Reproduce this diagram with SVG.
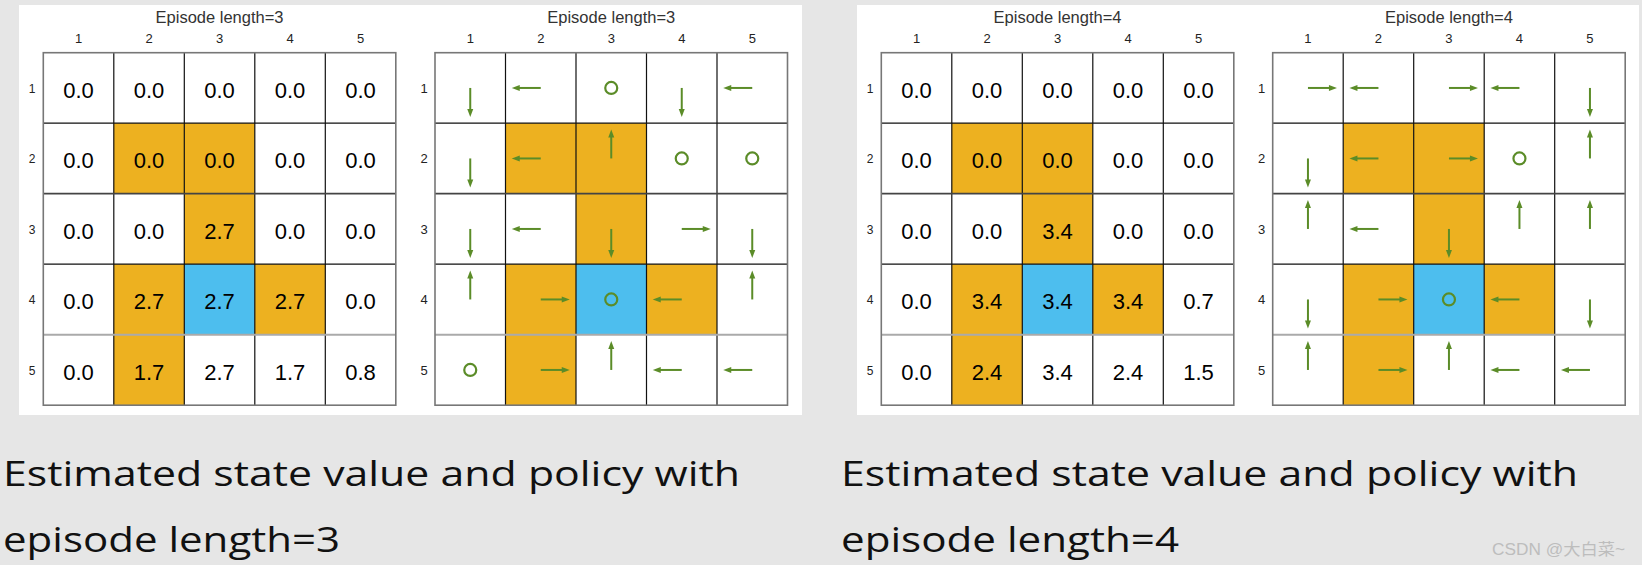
<svg xmlns="http://www.w3.org/2000/svg" xmlns:xlink="http://www.w3.org/1999/xlink" width="1642" height="565" viewBox="0 0 1642 565">
<style>
.bg{fill:#e6e6e6}
.panel{fill:#ffffff}
.o{fill:#edb120}
.b{fill:#4dbeee}
.inner{fill:none;stroke:#111;stroke-width:1.2}
.hl{fill:none;stroke:#aaaaaa;stroke-width:2}
.hd{fill:none;stroke:#444;stroke-width:1.8}
.outer{fill:none;stroke:#777;stroke-width:1.6}
.title{font-family:"Liberation Sans",Arial,sans-serif;font-size:16.5px;fill:#333;text-anchor:middle}
.lab{font-family:"Liberation Sans",Arial,sans-serif;font-size:13px;fill:#222;text-anchor:middle}
.rlab{font-family:"Liberation Sans",Arial,sans-serif;font-size:12px;fill:#222;text-anchor:middle}
.val{font-family:"Liberation Sans",Arial,sans-serif;font-size:22px;fill:#000;text-anchor:middle}
.cap{font-family:"Open Sans","Liberation Sans",sans-serif;font-size:35px;fill:#111}
.wm{font-family:"Liberation Sans","Noto Sans CJK SC",sans-serif;font-size:16px;fill:#bdbdbd}
.ln{stroke:#5b8c28;stroke-width:2;fill:none}
.hdp{fill:#5b8c28}
.circ{fill:none;stroke:#5b8c28;stroke-width:2.2}
</style>
<defs>
<g id="aR"><line class="ln" x1="0" y1="0" x2="22" y2="0"/><polygon class="hdp" points="29,0 21,-3 21,3"/></g>
<g id="aL"><line class="ln" x1="0" y1="0" x2="-22" y2="0"/><polygon class="hdp" points="-29,0 -21,-3 -21,3"/></g>
<g id="aU"><line class="ln" x1="0" y1="0" x2="0" y2="-22"/><polygon class="hdp" points="0,-29 -3,-21 3,-21"/></g>
<g id="aD"><line class="ln" x1="0" y1="0" x2="0" y2="22"/><polygon class="hdp" points="0,29 -3,21 3,21"/></g>
<circle id="aS" class="circ" cx="0" cy="0" r="6"/>
<g id="fills">
<rect class="o" x="70.5" y="70.5" width="70.5" height="70.5"/>
<rect class="o" x="141" y="70.5" width="70.5" height="70.5"/>
<rect class="o" x="141" y="141" width="70.5" height="70.5"/>
<rect class="o" x="70.5" y="211.5" width="70.5" height="70.5"/>
<rect class="b" x="141" y="211.5" width="70.5" height="70.5"/>
<rect class="o" x="211.5" y="211.5" width="70.5" height="70.5"/>
<rect class="o" x="70.5" y="282" width="70.5" height="70.5"/>
</g>
<g id="lines">
<path class="inner" d="M70.5 0V352.5M141 0V352.5M211.5 0V352.5M282 0V352.5M0 70.5H352.5M0 211.5H352.5"/>
<path class="hd" d="M0 141H352.5"/>
<path class="hl" d="M0 282H352.5"/>
<rect class="outer" x="0" y="0" width="352.5" height="352.5"/>
</g>
<g id="axes">
<text class="lab" x="35.25" y="-10">1</text>
<text class="lab" x="105.75" y="-10">2</text>
<text class="lab" x="176.25" y="-10">3</text>
<text class="lab" x="246.75" y="-10">4</text>
<text class="lab" x="317.25" y="-10">5</text>
</g>
</defs>

<rect class="bg" x="0" y="0" width="1642" height="565"/>
<rect class="panel" x="19" y="5" width="783" height="410"/>
<rect class="panel" x="857" y="5" width="782" height="410"/>

<!-- Grid A: values, length 3 -->
<g id="gridA-values" transform="translate(43.3,52.7)">
<use xlink:href="#fills"/>
<text class="title" x="176.25" y="-30">Episode length=3</text>
<use xlink:href="#axes"/>
<text class="rlab" x="-11.3" y="40">1</text>
<text class="rlab" x="-11.3" y="110.5">2</text>
<text class="rlab" x="-11.3" y="181">3</text>
<text class="rlab" x="-11.3" y="251.5">4</text>
<text class="rlab" x="-11.3" y="322">5</text>
<g>
<text class="val" x="35.25" y="45.25">0.0</text><text class="val" x="105.75" y="45.25">0.0</text><text class="val" x="176.25" y="45.25">0.0</text><text class="val" x="246.75" y="45.25">0.0</text><text class="val" x="317.25" y="45.25">0.0</text>
<text class="val" x="35.25" y="115.75">0.0</text><text class="val" x="105.75" y="115.75">0.0</text><text class="val" x="176.25" y="115.75">0.0</text><text class="val" x="246.75" y="115.75">0.0</text><text class="val" x="317.25" y="115.75">0.0</text>
<text class="val" x="35.25" y="186.25">0.0</text><text class="val" x="105.75" y="186.25">0.0</text><text class="val" x="176.25" y="186.25">2.7</text><text class="val" x="246.75" y="186.25">0.0</text><text class="val" x="317.25" y="186.25">0.0</text>
<text class="val" x="35.25" y="256.75">0.0</text><text class="val" x="105.75" y="256.75">2.7</text><text class="val" x="176.25" y="256.75">2.7</text><text class="val" x="246.75" y="256.75">2.7</text><text class="val" x="317.25" y="256.75">0.0</text>
<text class="val" x="35.25" y="327.25">0.0</text><text class="val" x="105.75" y="327.25">1.7</text><text class="val" x="176.25" y="327.25">2.7</text><text class="val" x="246.75" y="327.25">1.7</text><text class="val" x="317.25" y="327.25">0.8</text>
</g>
<use xlink:href="#lines"/>
</g>

<!-- Grid B: policy, length 3 -->
<g id="gridB-policy" transform="translate(435,52.7)">
<use xlink:href="#fills"/>
<text class="title" x="176.25" y="-30">Episode length=3</text>
<use xlink:href="#axes"/>
<text class="lab" x="-11" y="40">1</text>
<text class="lab" x="-11" y="110.5">2</text>
<text class="lab" x="-11" y="181">3</text>
<text class="lab" x="-11" y="251.5">4</text>
<text class="lab" x="-11" y="322">5</text>
<use xlink:href="#lines"/>
<g id="policyB">
<use xlink:href="#aD" x="35.25" y="35.25"/><use xlink:href="#aL" x="105.75" y="35.25"/><use xlink:href="#aS" x="176.25" y="35.25"/><use xlink:href="#aD" x="246.75" y="35.25"/><use xlink:href="#aL" x="317.25" y="35.25"/>
<use xlink:href="#aD" x="35.25" y="105.75"/><use xlink:href="#aL" x="105.75" y="105.75"/><use xlink:href="#aU" x="176.25" y="105.75"/><use xlink:href="#aS" x="246.75" y="105.75"/><use xlink:href="#aS" x="317.25" y="105.75"/>
<use xlink:href="#aD" x="35.25" y="176.25"/><use xlink:href="#aL" x="105.75" y="176.25"/><use xlink:href="#aD" x="176.25" y="176.25"/><use xlink:href="#aR" x="246.75" y="176.25"/><use xlink:href="#aD" x="317.25" y="176.25"/>
<use xlink:href="#aU" x="35.25" y="246.75"/><use xlink:href="#aR" x="105.75" y="246.75"/><use xlink:href="#aS" x="176.25" y="246.75"/><use xlink:href="#aL" x="246.75" y="246.75"/><use xlink:href="#aU" x="317.25" y="246.75"/>
<use xlink:href="#aS" x="35.25" y="317.25"/><use xlink:href="#aR" x="105.75" y="317.25"/><use xlink:href="#aU" x="176.25" y="317.25"/><use xlink:href="#aL" x="246.75" y="317.25"/><use xlink:href="#aL" x="317.25" y="317.25"/>
</g>
</g>

<!-- Grid C: values, length 4 -->
<g id="gridC-values" transform="translate(881.3,52.7)">
<use xlink:href="#fills"/>
<text class="title" x="176.25" y="-30">Episode length=4</text>
<use xlink:href="#axes"/>
<text class="rlab" x="-11.3" y="40">1</text>
<text class="rlab" x="-11.3" y="110.5">2</text>
<text class="rlab" x="-11.3" y="181">3</text>
<text class="rlab" x="-11.3" y="251.5">4</text>
<text class="rlab" x="-11.3" y="322">5</text>
<g>
<text class="val" x="35.25" y="45.25">0.0</text><text class="val" x="105.75" y="45.25">0.0</text><text class="val" x="176.25" y="45.25">0.0</text><text class="val" x="246.75" y="45.25">0.0</text><text class="val" x="317.25" y="45.25">0.0</text>
<text class="val" x="35.25" y="115.75">0.0</text><text class="val" x="105.75" y="115.75">0.0</text><text class="val" x="176.25" y="115.75">0.0</text><text class="val" x="246.75" y="115.75">0.0</text><text class="val" x="317.25" y="115.75">0.0</text>
<text class="val" x="35.25" y="186.25">0.0</text><text class="val" x="105.75" y="186.25">0.0</text><text class="val" x="176.25" y="186.25">3.4</text><text class="val" x="246.75" y="186.25">0.0</text><text class="val" x="317.25" y="186.25">0.0</text>
<text class="val" x="35.25" y="256.75">0.0</text><text class="val" x="105.75" y="256.75">3.4</text><text class="val" x="176.25" y="256.75">3.4</text><text class="val" x="246.75" y="256.75">3.4</text><text class="val" x="317.25" y="256.75">0.7</text>
<text class="val" x="35.25" y="327.25">0.0</text><text class="val" x="105.75" y="327.25">2.4</text><text class="val" x="176.25" y="327.25">3.4</text><text class="val" x="246.75" y="327.25">2.4</text><text class="val" x="317.25" y="327.25">1.5</text>
</g>
<use xlink:href="#lines"/>
</g>

<!-- Grid D: policy, length 4 -->
<g id="gridD-policy" transform="translate(1272.7,52.7)">
<use xlink:href="#fills"/>
<text class="title" x="176.25" y="-30">Episode length=4</text>
<use xlink:href="#axes"/>
<text class="lab" x="-11" y="40">1</text>
<text class="lab" x="-11" y="110.5">2</text>
<text class="lab" x="-11" y="181">3</text>
<text class="lab" x="-11" y="251.5">4</text>
<text class="lab" x="-11" y="322">5</text>
<use xlink:href="#lines"/>
<g id="policyD">
<use xlink:href="#aR" x="35.25" y="35.25"/><use xlink:href="#aL" x="105.75" y="35.25"/><use xlink:href="#aR" x="176.25" y="35.25"/><use xlink:href="#aL" x="246.75" y="35.25"/><use xlink:href="#aD" x="317.25" y="35.25"/>
<use xlink:href="#aD" x="35.25" y="105.75"/><use xlink:href="#aL" x="105.75" y="105.75"/><use xlink:href="#aR" x="176.25" y="105.75"/><use xlink:href="#aS" x="246.75" y="105.75"/><use xlink:href="#aU" x="317.25" y="105.75"/>
<use xlink:href="#aU" x="35.25" y="176.25"/><use xlink:href="#aL" x="105.75" y="176.25"/><use xlink:href="#aD" x="176.25" y="176.25"/><use xlink:href="#aU" x="246.75" y="176.25"/><use xlink:href="#aU" x="317.25" y="176.25"/>
<use xlink:href="#aD" x="35.25" y="246.75"/><use xlink:href="#aR" x="105.75" y="246.75"/><use xlink:href="#aS" x="176.25" y="246.75"/><use xlink:href="#aL" x="246.75" y="246.75"/><use xlink:href="#aD" x="317.25" y="246.75"/>
<use xlink:href="#aU" x="35.25" y="317.25"/><use xlink:href="#aR" x="105.75" y="317.25"/><use xlink:href="#aU" x="176.25" y="317.25"/><use xlink:href="#aL" x="246.75" y="317.25"/><use xlink:href="#aL" x="317.25" y="317.25"/>
</g>
</g>

<g id="caption-left">
<text class="cap" x="3" y="486" textLength="737" lengthAdjust="spacingAndGlyphs">Estimated state value and policy with</text>
<text class="cap" x="3" y="552" textLength="337" lengthAdjust="spacingAndGlyphs">episode length=3</text>
</g>
<g id="caption-right">
<text class="cap" x="841" y="486" textLength="737" lengthAdjust="spacingAndGlyphs">Estimated state value and policy with</text>
<text class="cap" x="841" y="552" textLength="338" lengthAdjust="spacingAndGlyphs">episode length=4</text>
</g>
<text id="watermark" class="wm" x="1492" y="555" textLength="133" lengthAdjust="spacingAndGlyphs">CSDN @大白菜~</text>
</svg>
